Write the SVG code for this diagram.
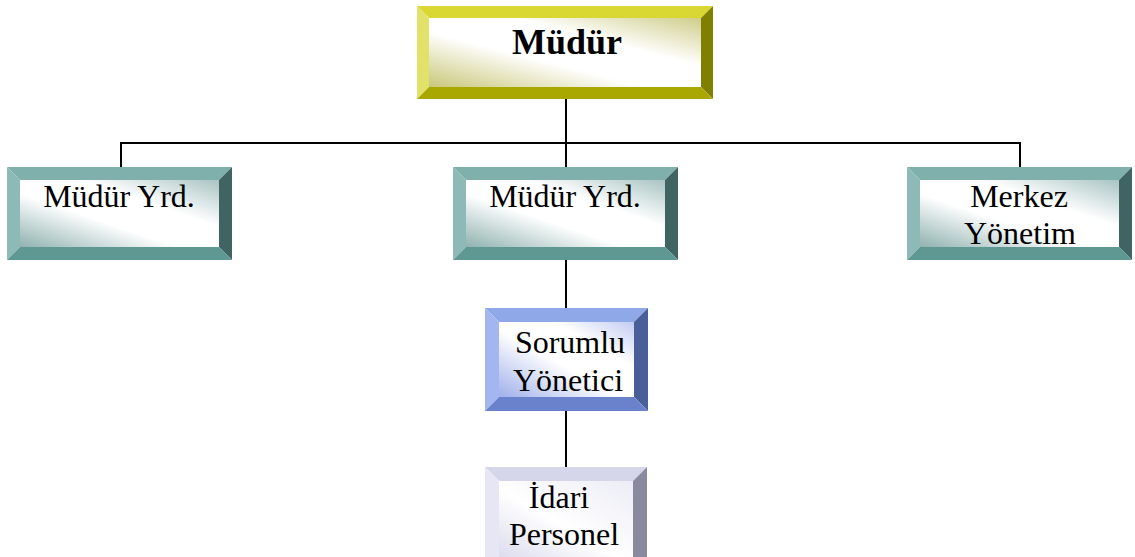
<svg xmlns="http://www.w3.org/2000/svg" width="1135" height="557" viewBox="0 0 1135 557">
<defs>
<linearGradient id="gY" x1="0" y1="1" x2="1" y2="0"><stop offset="0" stop-color="#c9c77a"/><stop offset="0.4" stop-color="#ffffff"/><stop offset="0.65" stop-color="#ffffff"/><stop offset="1" stop-color="#cfcd8a"/></linearGradient>
<linearGradient id="gT" x1="0" y1="1" x2="1" y2="0"><stop offset="0" stop-color="#8fb2b0"/><stop offset="0.4" stop-color="#ffffff"/><stop offset="0.65" stop-color="#ffffff"/><stop offset="1" stop-color="#a9c3c3"/></linearGradient>
<linearGradient id="gB" x1="0" y1="1" x2="1" y2="0"><stop offset="0" stop-color="#9fb0ea"/><stop offset="0.45" stop-color="#ffffff"/><stop offset="0.7" stop-color="#ffffff"/><stop offset="1" stop-color="#c2ccf2"/></linearGradient>
<linearGradient id="gL" x1="0" y1="1" x2="1" y2="0"><stop offset="0" stop-color="#dcdcee"/><stop offset="0.45" stop-color="#ffffff"/><stop offset="1" stop-color="#ececf6"/></linearGradient>
</defs>
<style>
.t{font-family:"Liberation Serif","Times New Roman",serif;font-size:32px;fill:#000;text-anchor:middle}
.tb{font-weight:bold;font-size:36px}
.yT{fill:#d9d832}.yL{fill:#e2e16a}.yR{fill:#808000}.yB{fill:#a9a800}.yI{fill:url(#gY)}
.tT{fill:#80b0ac}.tL{fill:#8dbab6}.tR{fill:#406462}.tB{fill:#5f9793}.tI{fill:url(#gT)}
.bT{fill:#8fa8e8}.bL{fill:#a3b6f0}.bR{fill:#4a5e9a}.bB{fill:#6a82cc}.bI{fill:url(#gB)}
.lT{fill:#d6d6ea}.lL{fill:#e6e6f4}.lR{fill:#8a8a9e}.lB{fill:#b0b0c8}.lI{fill:url(#gL)}
.c{stroke:#000;stroke-width:2;fill:none}
</style>
<g id="connectors">
<line class="c" x1="566" y1="99" x2="566" y2="143"/>
<line class="c" x1="120" y1="143" x2="1020" y2="143"/>
<line class="c" x1="121" y1="142" x2="121" y2="167"/>
<line class="c" x1="566" y1="142" x2="566" y2="167"/>
<line class="c" x1="1020" y1="142" x2="1020" y2="167"/>
<line class="c" x1="566" y1="260" x2="566" y2="308"/>
<line class="c" x1="566" y1="411" x2="566" y2="467"/>
</g>
<g id="mudur">
<polygon class="yT" points="417,6 713,6 701,18 429,18"/>
<polygon class="yL" points="417,6 429,18 429,87 417,99"/>
<polygon class="yR" points="713,6 713,99 701,87 701,18"/>
<polygon class="yB" points="417,99 429,87 701,87 713,99"/>
<rect class="yI" x="429" y="18" width="272" height="69"/>
<text class="t tb" x="567" y="54">Müdür</text>
</g>
<g id="mudur-yrd-1">
<polygon class="tT" points="7,167 232,167 219,180 20,180"/>
<polygon class="tL" points="7,167 20,180 20,247 7,260"/>
<polygon class="tR" points="232,167 232,260 219,247 219,180"/>
<polygon class="tB" points="7,260 20,247 219,247 232,260"/>
<rect class="tI" x="20" y="180" width="199" height="67"/>
<text class="t" x="119" y="207">Müdür Yrd.</text>
</g>
<g id="mudur-yrd-2">
<polygon class="tT" points="453,167 678,167 665,180 466,180"/>
<polygon class="tL" points="453,167 466,180 466,247 453,260"/>
<polygon class="tR" points="678,167 678,260 665,247 665,180"/>
<polygon class="tB" points="453,260 466,247 665,247 678,260"/>
<rect class="tI" x="466" y="180" width="199" height="67"/>
<text class="t" x="565" y="207">Müdür Yrd.</text>
</g>
<g id="merkez-yonetim">
<polygon class="tT" points="907,167 1132,167 1119,180 920,180"/>
<polygon class="tL" points="907,167 920,180 920,247 907,260"/>
<polygon class="tR" points="1132,167 1132,260 1119,247 1119,180"/>
<polygon class="tB" points="907,260 920,247 1119,247 1132,260"/>
<rect class="tI" x="920" y="180" width="199" height="67"/>
<text class="t" x="1019" y="207">Merkez</text>
<text class="t" x="1020" y="244">Yönetim</text>
</g>
<g id="sorumlu-yonetici">
<polygon class="bT" points="485,308 648,308 634,322 499,322"/>
<polygon class="bL" points="485,308 499,322 499,397 485,411"/>
<polygon class="bR" points="648,308 648,411 634,397 634,322"/>
<polygon class="bB" points="485,411 499,397 634,397 648,411"/>
<rect class="bI" x="499" y="322" width="135" height="75"/>
<text class="t" x="570" y="353">Sorumlu</text>
<text class="t" x="568" y="391">Yönetici</text>
</g>
<g id="idari-personel">
<polygon class="lT" points="485,467 647,467 633,481 499,481"/>
<polygon class="lL" points="485,467 499,481 499,558 485,572"/>
<polygon class="lR" points="647,467 647,572 633,558 633,481"/>
<polygon class="lB" points="485,572 499,558 633,558 647,572"/>
<rect class="lI" x="499" y="481" width="134" height="77"/>
<text class="t" x="559" y="508">İdari</text>
<text class="t" x="564" y="545">Personel</text>
</g>
</svg>
